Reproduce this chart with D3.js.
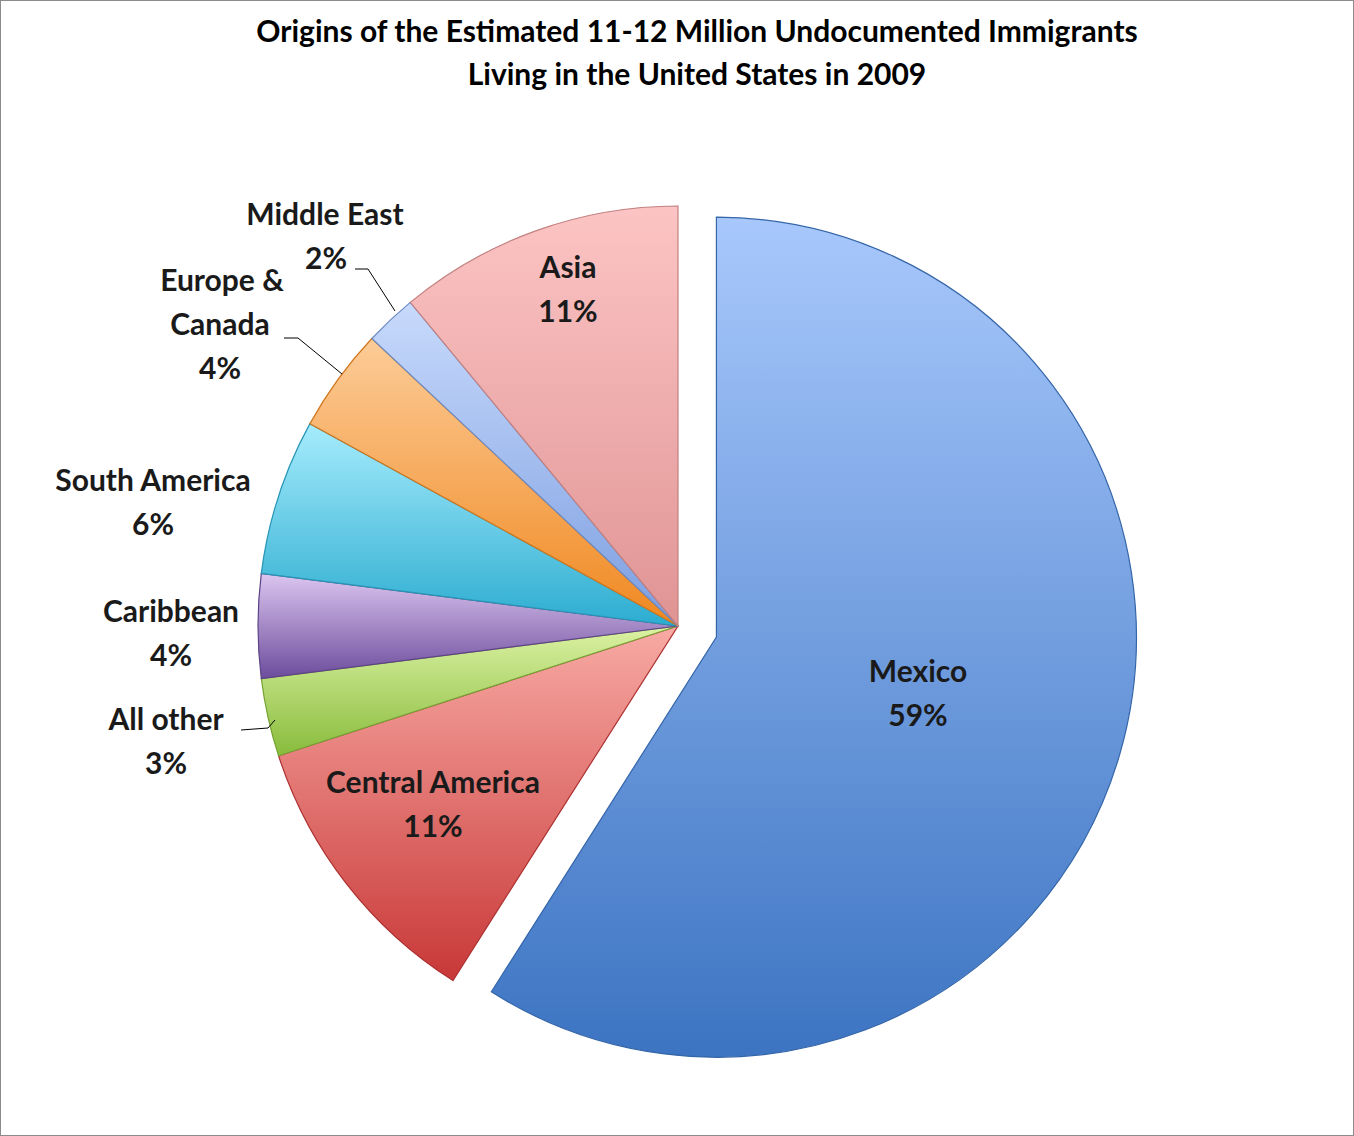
<!DOCTYPE html>
<html><head><meta charset="utf-8">
<script src="https://cdn.jsdelivr.net/npm/d3@7"></script>
<style>body{margin:0;background:#fff}</style>
</head><body><div id="chart"></div>
<script>
// Data
const regions = ["Mexico", "Central America", "All other", "Caribbean", "South America", "Europe & Canada", "Middle East", "Asia"];
const shares = [59, 11, 3, 4, 6, 4, 2, 11];
const topColors = ["#a8c8fc", "#f8aaa4", "#dcf2a4", "#dcc6f0", "#a6ecfc", "#fccc98", "#c8dafc", "#fcc4c4"];
const bottomColors = ["#3c74c2", "#c83838", "#88bc3c", "#6c4c9c", "#2cacd0", "#f08820", "#7c9ee0", "#e09494"];

const width = 1354, height = 1136;
const cx = 678, cy = 626, radius = 420;

const svg = d3.select("#chart").append("svg")
  .attr("width", width).attr("height", height)
  .style("font-family", "Lato, 'Open Sans', sans-serif");

svg.append("rect").attr("x", 0.5).attr("y", 0.5)
  .attr("width", width - 1).attr("height", height - 1)
  .attr("fill", "#fff").attr("stroke", "#8c8c8c");

// Title
const title = svg.append("text").attr("x", 697).attr("text-anchor", "middle")
  .style("font-size", "30px").style("font-weight", "bold");
title.append("tspan").attr("x", 697).attr("y", 42).text("Origins of the Estimated 11-12 Million Undocumented Immigrants");
title.append("tspan").attr("x", 697).attr("y", 85).text("Living in the United States in 2009");

const data = regions.map((r, i) => ({region: r, value: shares[i], i}));
const pie = d3.pie().value(d => d.value).sort(null);
const arcs = pie(data);
const arc = d3.arc().innerRadius(0).outerRadius(radius);

const defs = svg.append("defs");
data.forEach((d, i) => {
  const g = defs.append("linearGradient").attr("id", "g" + i)
    .attr("x1", 0).attr("y1", 0).attr("x2", 0).attr("y2", 1);
  g.append("stop").attr("offset", "0%").attr("stop-color", topColors[i]);
  g.append("stop").attr("offset", "100%").attr("stop-color", bottomColors[i]);
});

const explode = 40;
const slices = svg.append("g").attr("transform", `translate(${cx},${cy})`);
slices.selectAll("path").data(arcs).enter().append("path")
  .attr("transform", d => {
    if (d.data.region !== "Mexico") return null;
    const a = (d.startAngle + d.endAngle) / 2;
    return `translate(${explode * Math.sin(a)},${-explode * Math.cos(a)})`;
  })
  .attr("d", arc)
  .attr("fill", (d, i) => `url(#g${i})`)
  .attr("stroke", (d, i) => d3.color(bottomColors[i]).darker(0.4))
  .attr("stroke-width", 1.2);

// Label positions (centre of label block)
const labelPos = {
  "Mexico": [918, 694], "Central America": [433, 805], "All other": [166, 742],
  "Caribbean": [171, 634], "South America": [153, 503], "Europe & Canada": [220, 325],
  "Middle East": [325, 237], "Asia": [568, 290]
};
const labelLines = {
  "Europe & Canada": ["Europe &", "Canada", "4%"],
  "Middle East": ["Middle East", "2%"]
};

// Leader lines
const leaders = [
  [[355, 269], [368, 269], [395, 311]],
  [[284, 338], [298, 338], [342, 374]],
  [[241, 730], [268, 728], [275, 720]]
];
leaders.forEach(p => svg.append("path").attr("d", d3.line()(p))
  .attr("fill", "none").attr("stroke", "#000").attr("stroke-width", 1));

arcs.forEach(d => {
  const [x, y] = labelPos[d.data.region];
  const lines = labelLines[d.data.region] || [d.data.region, d.data.value + "%"];
  const t = svg.append("text").attr("text-anchor", "middle")
    .style("font-size", "30px").style("font-weight", "bold").attr("fill", "#1a1a1a");
  const y0 = y - (lines.length - 1) * 44 / 2 + 10;
  lines.forEach((l, k) => {
    let lx = x;
    if (d.data.region === "Middle East" && k === 1) lx = 326;
    if (d.data.region === "Europe & Canada" && k === 0) lx = 222;
    t.append("tspan").attr("x", lx).attr("y", y0 + k * 44).text(l);
  });
});
</script></body></html>
